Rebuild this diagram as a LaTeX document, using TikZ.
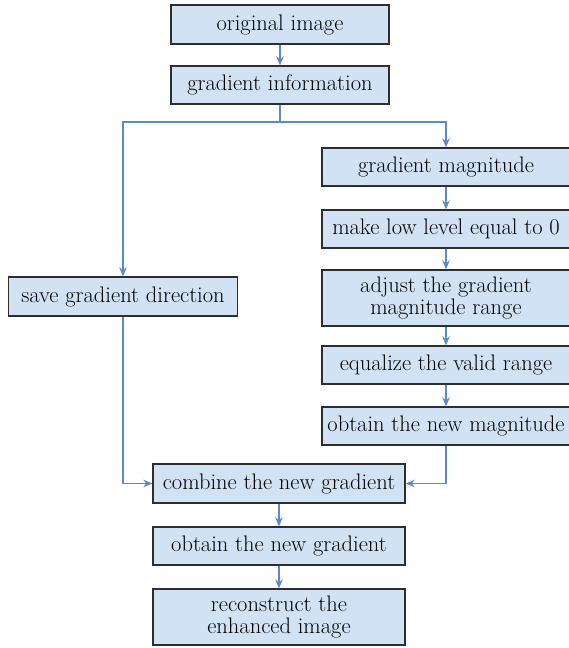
\documentclass[tikz,border=0pt]{standalone}
\usepackage{fontspec}
\usetikzlibrary{arrows.meta}
\definecolor{boxfill}{HTML}{D0E2F3}
\definecolor{boxedge}{HTML}{2E2E2E}
\definecolor{flow}{HTML}{5B8AC8}
\begin{document}
\begin{tikzpicture}[x=1pt,y=-1pt,
  procbox/.style={draw=boxedge,fill=boxfill,line width=1.3pt,inner sep=0pt,
    align=center,font=\fontsize{22.5}{22.5}\selectfont},
  flowline/.style={draw=flow,line width=1.3pt},
  flowarrow/.style={flowline,-{Stealth[length=9pt,width=7.5pt]}}]
\useasboundingbox (0,0) rectangle (569,648);
\node[procbox,minimum width=218pt,minimum height=39pt] (orig) at (280,24.5) {original image};
\node[procbox,minimum width=218pt,minimum height=38pt] (info) at (280,85) {gradient information};
\node[procbox,minimum width=248pt,minimum height=38pt] (mag) at (446,167) {gradient magnitude};
\node[procbox,minimum width=248pt,minimum height=38pt] (low) at (446,229) {make low level equal to 0};
\node[procbox,minimum width=248pt,minimum height=56pt] (adj) at (446,298) {adjust the gradient\\magnitude range};
\node[procbox,minimum width=248pt,minimum height=38pt] (equ) at (446,365) {equalize the valid range};
\node[procbox,minimum width=248pt,minimum height=38pt] (newmag) at (446,426) {obtain the new magnitude};
\node[procbox,minimum width=229pt,minimum height=39pt] (save) at (123,296.5) {save gradient direction};
\node[procbox,minimum width=252pt,minimum height=39pt] (comb) at (279,483.5) {combine the new gradient};
\node[procbox,minimum width=252pt,minimum height=38pt] (newgrad) at (279,546) {obtain the new gradient};
\node[procbox,minimum width=252pt,minimum height=56pt] (recon) at (279,617) {reconstruct the\\enhanced image};
\coordinate (split) at (280,122);
\draw[flowarrow] (orig) -- (info);
\draw[flowline] (info.south) -- (split);
\draw[flowarrow] (split) -| (save.north);
\draw[flowarrow] (split) -| (mag.north);
\draw[flowarrow] (mag) -- (low);
\draw[flowarrow] (low) -- (adj);
\draw[flowarrow] (adj) -- (equ);
\draw[flowarrow] (equ) -- (newmag);
\draw[flowarrow] (save.south) |- (comb.west);
\draw[flowarrow] (newmag.south) |- (comb.east);
\draw[flowarrow] (comb) -- (newgrad);
\draw[flowarrow] (newgrad) -- (recon);
\end{tikzpicture}
\end{document}
